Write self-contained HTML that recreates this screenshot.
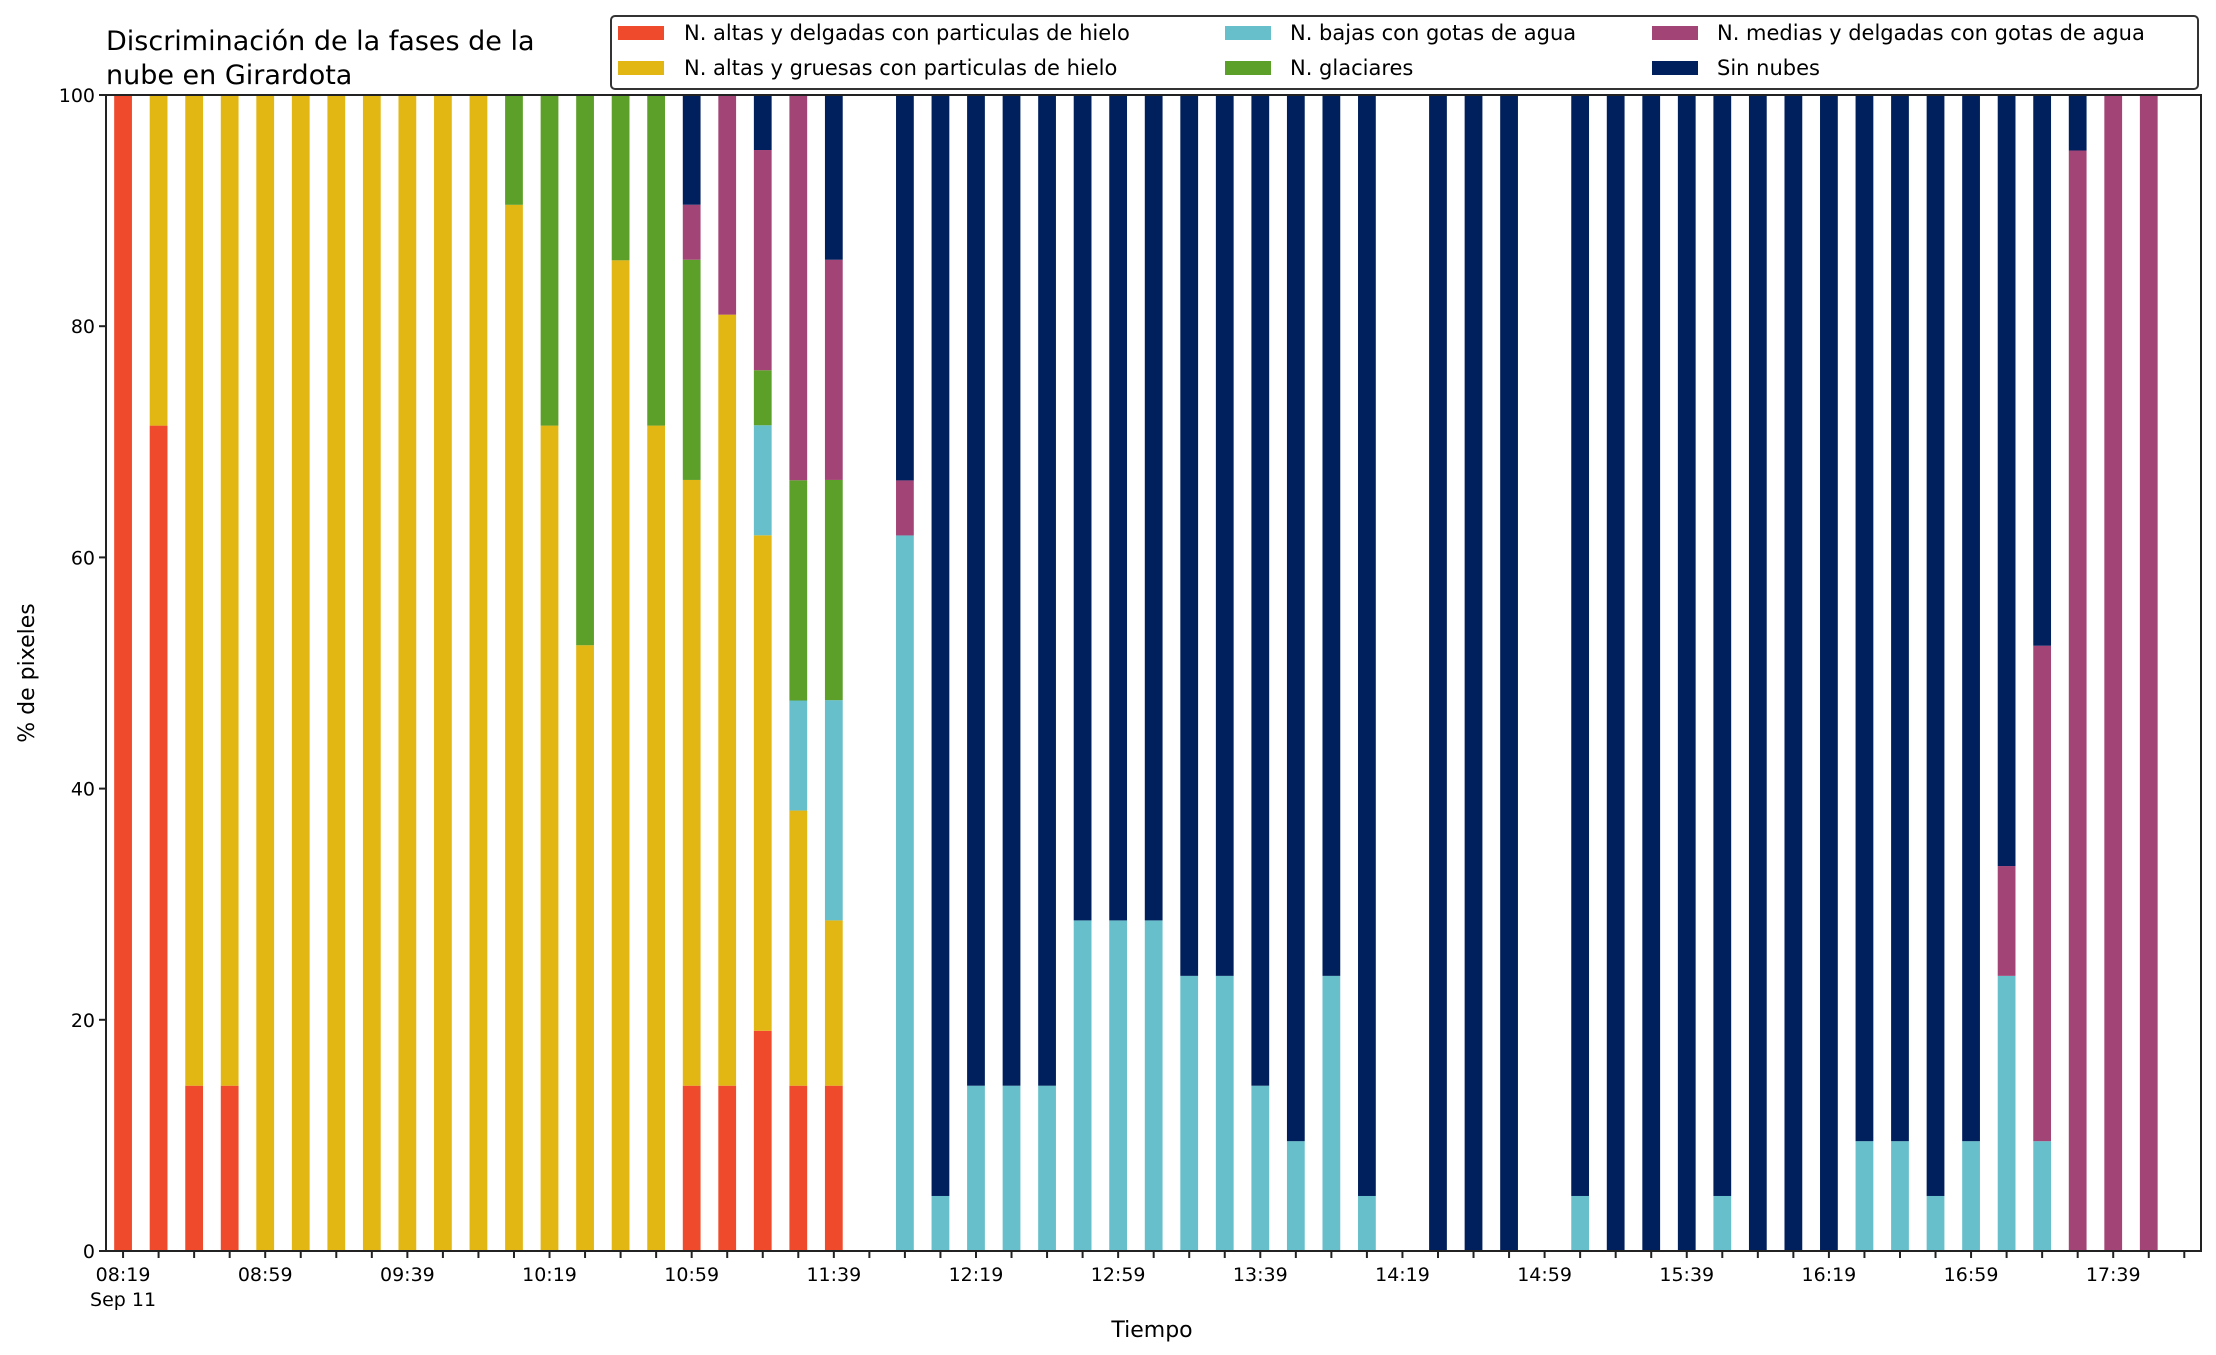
<!DOCTYPE html>
<html><head><meta charset="utf-8"><style>
body{margin:0;background:#fff;}
svg{display:block;font-family:"DejaVu Sans","Liberation Sans",sans-serif;}
</style></head><body>
<svg id="chart" width="2216" height="1355" viewBox="0 0 2216 1355">
<g id="bars"></g>
<g id="axes"></g>
<text x="106" y="50" font-size="27" fill="#000">Discriminación de la fases de la</text>
<text x="106" y="84" font-size="27" fill="#000">nube en Girardota</text>
<text x="1152" y="1337" font-size="22" text-anchor="middle">Tiempo</text>
<text transform="translate(34,673) rotate(-90)" font-size="22" text-anchor="middle">% de pixeles</text>
<g>
<rect x="611" y="16" width="1587" height="73" rx="4" fill="#fff" stroke="#333" stroke-width="2"/>
<g><rect x="618" y="26" width="46" height="14" fill="#EF4A2B"/><text x="684" y="40" font-size="21">N. altas y delgadas con particulas de hielo</text></g>
<g><rect x="618" y="61" width="46" height="14" fill="#E3B713"/><text x="684" y="75" font-size="21">N. altas y gruesas con particulas de hielo</text></g>
<g><rect x="1225" y="26" width="46" height="14" fill="#66BFCA"/><text x="1290" y="40" font-size="21">N. bajas con gotas de agua</text></g>
<g><rect x="1225" y="61" width="46" height="14" fill="#5C9F29"/><text x="1290" y="75" font-size="21">N. glaciares</text></g>
<g><rect x="1652" y="26" width="46" height="14" fill="#A34477"/><text x="1717" y="40" font-size="21">N. medias y delgadas con gotas de agua</text></g>
<g><rect x="1652" y="61" width="46" height="14" fill="#001F5D"/><text x="1717" y="75" font-size="21">Sin nubes</text></g>
</g>
</svg>
<script>
// slot index (10-minute steps from 08:19); null = missing observation
const missing = [21, 36, 40];
const redVals    = [100,71.4,14.3,14.3,0,0,0,0,0,0,0,0,0,0,0,0,14.3,14.3,19.05,14.3,14.3,0,0,0,0,0,0,0,0,0,0,0,0,0,0,0,0,0,0,0,0,0,0,0,0,0,0,0,0,0,0,0,0,0,0,0,0,0];
const yellowVals = [0,28.6,85.7,85.7,100,100,100,100,100,100,100,90.5,71.4,52.4,85.7,71.4,52.4,66.7,42.86,23.8,14.3,0,0,0,0,0,0,0,0,0,0,0,0,0,0,0,0,0,0,0,0,0,0,0,0,0,0,0,0,0,0,0,0,0,0,0,0,0];
const cyanVals   = [0,0,0,0,0,0,0,0,0,0,0,0,0,0,0,0,0,0,9.52,9.52,19.05,0,61.9,4.76,14.3,14.3,14.3,28.6,28.6,28.6,23.8,23.8,14.3,9.5,23.8,4.76,0,0,0,0,0,4.76,0,0,0,4.76,0,0,0,9.5,9.5,4.76,9.5,23.8,9.5,0,0,0];
const greenVals  = [0,0,0,0,0,0,0,0,0,0,0,9.5,28.6,47.6,14.3,28.6,19.05,0,4.76,19.05,19.05,0,0,0,0,0,0,0,0,0,0,0,0,0,0,0,0,0,0,0,0,0,0,0,0,0,0,0,0,0,0,0,0,0,0,0,0,0];
const purpleVals = [0,0,0,0,0,0,0,0,0,0,0,0,0,0,0,0,4.76,19.05,19.05,33.3,19.05,0,4.76,0,0,0,0,0,0,0,0,0,0,0,0,0,0,0,0,0,0,0,0,0,0,0,0,0,0,0,0,0,0,9.5,42.86,95.2,100,100];
const navyVals   = [0,0,0,0,0,0,0,0,0,0,0,0,0,0,0,0,9.5,0,4.76,0,14.3,0,33.3,95.24,85.7,85.7,85.7,71.4,71.4,71.4,76.2,76.2,85.7,90.5,76.2,95.24,0,100,100,100,0,95.24,100,100,100,95.24,100,100,100,90.5,90.5,95.24,90.5,66.7,47.6,4.8,0,0];
const tickLabels = ["08:19","08:59","09:39","10:19","10:59","11:39","12:19","12:59","13:39","14:19","14:59","15:39","16:19","16:59","17:39"];
const yTicks = [0,20,40,60,80,100];
const seriesNames = ["altas-delgadas","altas-gruesas","bajas","glaciares","medias","sin-nubes"];
const seriesColors = ["#EF4A2B","#E3B713","#66BFCA","#5C9F29","#A34477","#001F5D"];

const L=106,R=2201,T=95,B=1251, X0=-0.48, X1=58.47, NS=59;
const xs = i => L + (i - X0)/(X1 - X0)*(R-L);
const ys = v => B - v/100*(B-T);
const bw = 0.5*(R-L)/(X1-X0);
const NS_ = "http://www.w3.org/2000/svg";
const gb = document.getElementById('bars');
const series = [redVals,yellowVals,cyanVals,greenVals,purpleVals,navyVals];
for (let i=0;i<redVals.length;i++){
  if (missing.includes(i)) continue;
  let base=0;
  series.forEach((s,k)=>{
    const v=s[i]; if(!v) return;
    const r=document.createElementNS(NS_,'rect');
    r.setAttribute('x',xs(i)-bw/2); r.setAttribute('width',bw);
    r.setAttribute('y',ys(base+v)); r.setAttribute('height',ys(base)-ys(base+v));
    r.setAttribute('fill',seriesColors[k]);
    
    
    gb.appendChild(r); base+=v;
  });
}
const ga=document.getElementById('axes');
function ln(x1,y1,x2,y2,w){const l=document.createElementNS(NS_,'line');l.setAttribute('x1',x1);l.setAttribute('y1',y1);l.setAttribute('x2',x2);l.setAttribute('y2',y2);l.setAttribute('stroke','#222');l.setAttribute('stroke-width',w);ga.appendChild(l);return l;}
function tx(x,y,s,anchor,size){const t=document.createElementNS(NS_,'text');t.setAttribute('x',x);t.setAttribute('y',y);t.setAttribute('text-anchor',anchor);t.setAttribute('font-size',size);t.textContent=s;ga.appendChild(t);return t;}
const frame=document.createElementNS(NS_,'rect');
frame.setAttribute('x',L);frame.setAttribute('y',T);frame.setAttribute('width',R-L);frame.setAttribute('height',B-T);
frame.setAttribute('fill','none');frame.setAttribute('stroke','#222');frame.setAttribute('stroke-width','2');


ga.appendChild(frame);
for(let i=0;i<NS;i++){
  const l=ln(xs(i),B,xs(i),B+7,2);
  
  
}
tickLabels.forEach((s,j)=>{
  const t=tx(xs(j*4),B+30,s,'middle',19);
  
  
});
const sep=tx(xs(0),B+55,"Sep 11",'middle',19);


yTicks.forEach(v=>{
  const l=ln(L-7,ys(v),L,ys(v),2);
  
  
  const t=tx(L-11,ys(v)+7,String(v),'end',19);
  
  
});
</script>
</body></html>
